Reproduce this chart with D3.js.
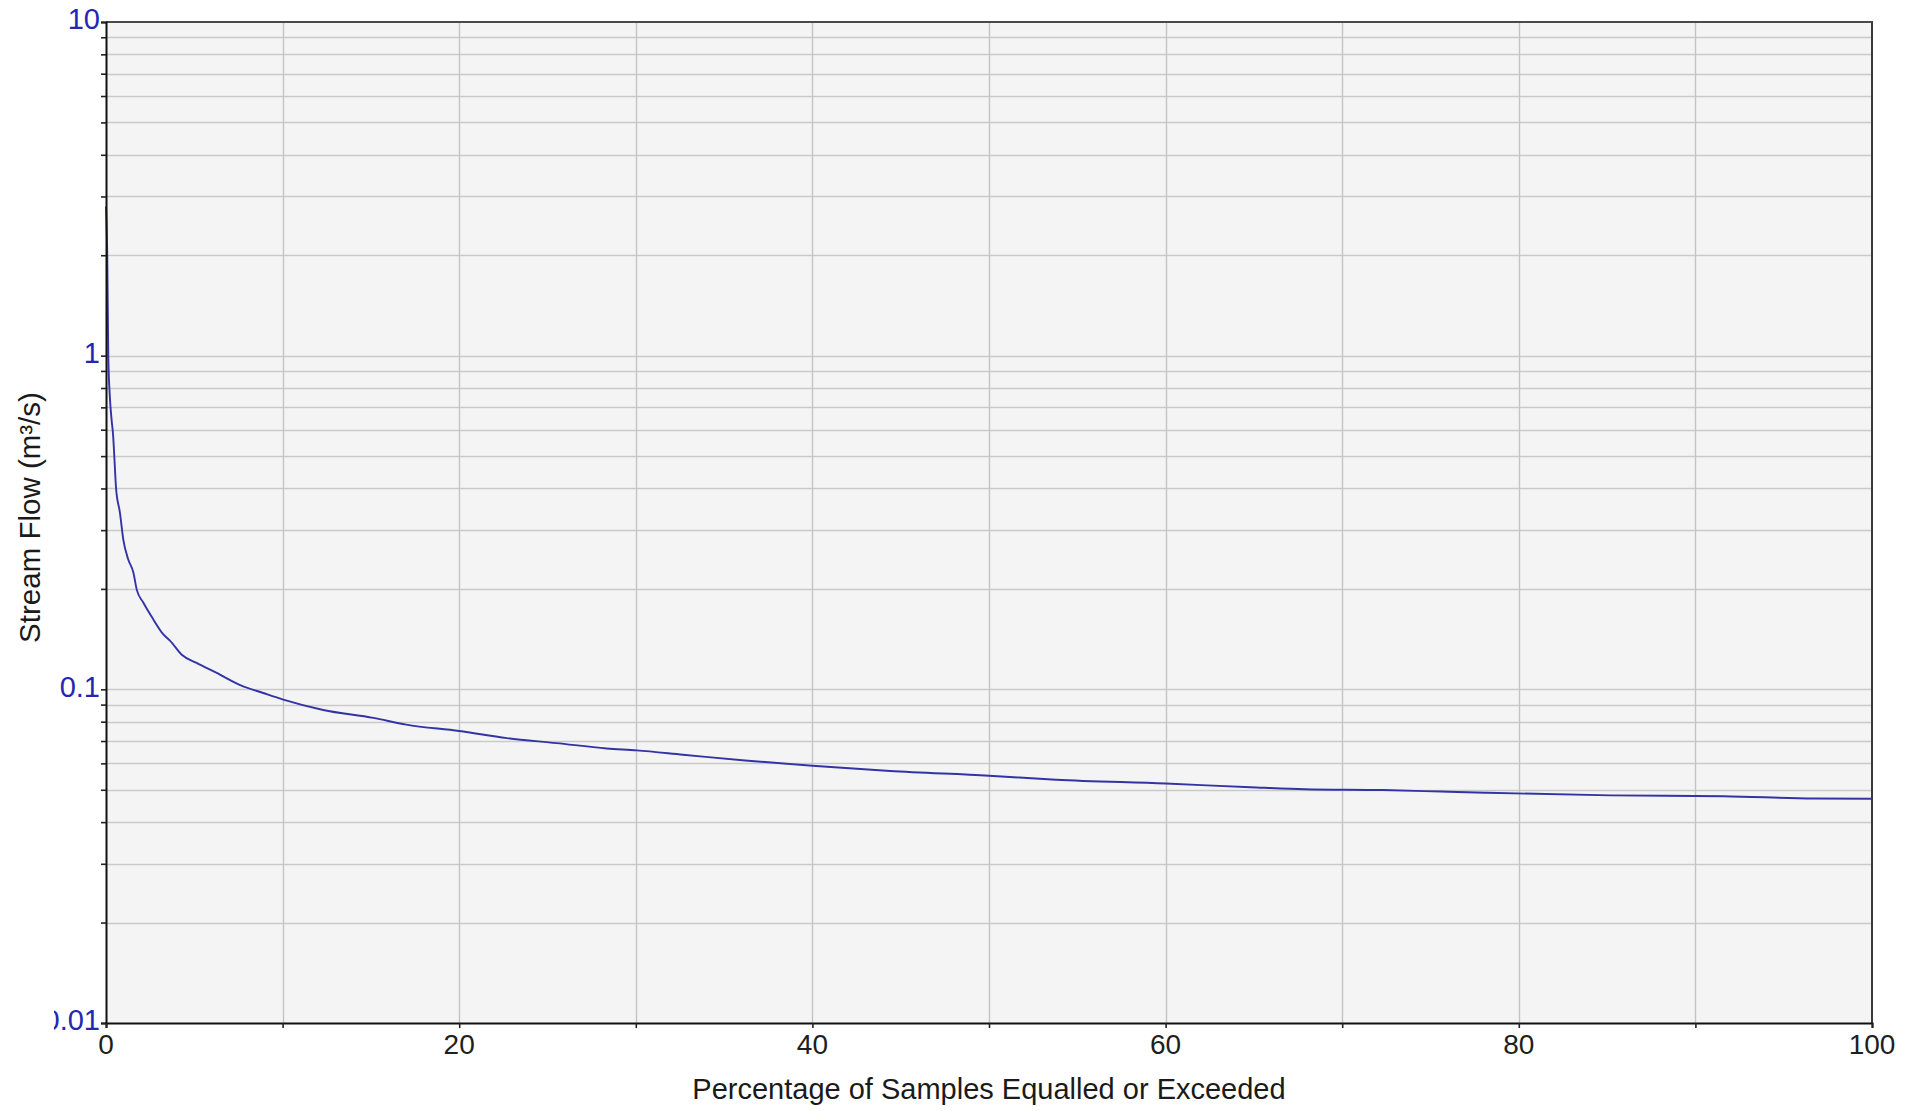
<!DOCTYPE html>
<html>
<head>
<meta charset="utf-8">
<script src="https://cdn.jsdelivr.net/npm/d3@7"></script>
<style>
  html, body { margin: 0; padding: 0; background: #ffffff; }
  svg { display: block; }
  text { font-family: "Liberation Sans", Arial, sans-serif; }
</style>
</head>
<body>
<svg id="chart" width="1915" height="1111"></svg>
<script>
// ---- data ----
const percentExceeded = [0, 0.07, 0.13, 0.22, 0.32, 0.40, 0.47, 0.57, 0.79, 0.98, 1.26, 1.55, 1.74, 2.11, 2.68, 3.25, 3.62, 4.29, 5.13, 6.27, 7.6, 8.9, 10.04, 12.3, 15.14, 17.0, 20.0, 22.7, 25.5, 28.35, 30.05, 32.67, 36.19, 40.0, 44.4, 50.0, 53.8, 60.0, 64.8, 67.9, 72.3, 75.6, 78.1, 85.2, 91.6, 96.7, 100];
const streamFlow = [2.8, 2.0, 1.0, 0.75, 0.64, 0.58, 0.50, 0.40, 0.338, 0.281, 0.245, 0.224, 0.199, 0.182, 0.162, 0.146, 0.140, 0.127, 0.120, 0.112, 0.103, 0.0975, 0.0931, 0.0867, 0.0821, 0.0784, 0.0750, 0.0714, 0.0690, 0.0665, 0.0656, 0.0637, 0.0612, 0.0590, 0.0569, 0.0551, 0.0536, 0.0522, 0.0509, 0.0502, 0.0499, 0.0494, 0.0490, 0.0481, 0.0478, 0.0471, 0.0470];
const xTicks = [0, 20, 40, 60, 80, 100];
const xGrid = [10, 20, 30, 40, 50, 60, 70, 80, 90];
const yTicks = [0.01, 0.1, 1, 10];
const yTickLabels = ["0.01", "0.1", "1", "10"];
const xTitle = "Percentage of Samples Equalled or Exceeded";
const yTitle = "Stream Flow (m³/s)";

// ---- layout ----
const L = 106, R = 1872, T = 22, B = 1023;
const svg = d3.select("#chart");

const x = d3.scaleLinear().domain([0, 100]).range([L, R]);
const y = d3.scaleLog().domain([0.01, 10]).range([B, T]);

// minor log values
const yMinor = [];
[0.01, 0.1, 1].forEach(d => { for (let k = 1; k <= 9; k++) yMinor.push(d * k); });
yMinor.push(10);

// plot background
svg.append("rect").attr("x", L).attr("y", T).attr("width", R - L).attr("height", B - T)
  .attr("fill", "#f4f4f4");

// horizontal grid
svg.append("g").selectAll("line").data(yMinor.filter(v => v > 0.01 && v < 10)).join("line")
  .attr("x1", L).attr("x2", R)
  .attr("y1", d => Math.round(y(d)) + 0.5).attr("y2", d => Math.round(y(d)) + 0.5)
  .attr("stroke", "#c9c9c9").attr("stroke-width", 1.4);

// vertical grid
svg.append("g").selectAll("line").data(xGrid).join("line")
  .attr("y1", T).attr("y2", B)
  .attr("x1", d => Math.round(x(d)) + 0.5).attr("x2", d => Math.round(x(d)) + 0.5)
  .attr("stroke", "#c4c4c4").attr("stroke-width", 1.4);

// flow line
const line = d3.line().curve(d3.curveMonotoneX)
  .x((d, i) => x(percentExceeded[i])).y(d => y(d));
svg.append("path").datum(streamFlow)
  .attr("d", line).attr("fill", "none")
  .attr("stroke", "#3333a6").attr("stroke-width", 1.9).attr("stroke-linejoin", "round");

// top & right border
svg.append("line").attr("x1", L).attr("x2", R + 1).attr("y1", T).attr("y2", T)
  .attr("stroke", "#4a4a4a").attr("stroke-width", 2);
svg.append("line").attr("x1", R).attr("x2", R).attr("y1", T).attr("y2", B)
  .attr("stroke", "#3a3a3a").attr("stroke-width", 2);

// y axis
const yAxis = d3.axisLeft(y).tickValues(yMinor).tickSize(5).tickFormat("");
const gy = svg.append("g").attr("transform", `translate(${L},0)`).call(yAxis);
gy.select(".domain").attr("stroke", "#111").attr("stroke-width", 2);
gy.selectAll(".tick line").attr("stroke", "#222").attr("stroke-width", 1.6);

// y tick labels (clipped at the left as in the reference)
svg.append("defs").append("clipPath").attr("id", "ylabclip")
  .append("rect").attr("x", 54).attr("y", 0).attr("width", 60).attr("height", 1111);
svg.append("g").attr("clip-path", "url(#ylabclip)")
  .selectAll("text").data(yTicks).join("text")
  .attr("x", L - 6).attr("y", d => y(d) - 3)
  .attr("dy", "0.36em")
  .attr("text-anchor", "end")
  .attr("font-size", 29).attr("fill", "#2626b4")
  .text((d, i) => yTickLabels[i]);

// x axis
const xAxis = d3.axisBottom(x).tickValues(xGrid.concat([0, 100])).tickSize(5).tickFormat("");
const gx = svg.append("g").attr("transform", `translate(0,${B})`).call(xAxis);
gx.select(".domain").attr("stroke", "#111").attr("stroke-width", 2);
gx.selectAll(".tick line").attr("stroke", "#222").attr("stroke-width", 1.6);

svg.append("g").selectAll("text").data(xTicks).join("text")
  .attr("x", d => x(d)).attr("y", B + 31)
  .attr("text-anchor", "middle")
  .attr("font-size", 28).attr("fill", "#1e1e1e")
  .text(d => d);

// axis titles
svg.append("text").attr("x", (L + R) / 2).attr("y", 1099)
  .attr("text-anchor", "middle").attr("font-size", 29).attr("fill", "#1a1a1a")
  .text(xTitle);

svg.append("text")
  .attr("transform", `translate(40,${(T + B) / 2 - 5}) rotate(-90)`)
  .attr("text-anchor", "middle").attr("font-size", 29.5).attr("fill", "#1a1a1a")
  .text(yTitle);
</script>
</body>
</html>
